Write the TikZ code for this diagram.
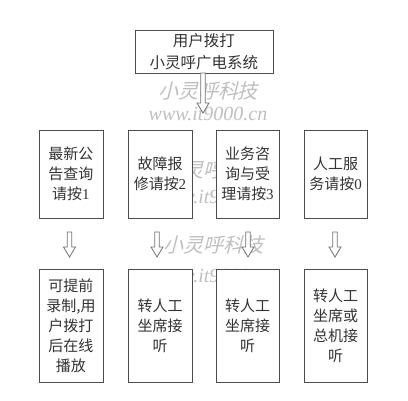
\documentclass[tikz,border=0pt]{standalone}
\usepackage{fontspec}
\setmainfont{Liberation Serif}
\newfontfamily\cjk{Noto Sans CJK SC}
\newfontfamily\cjkslant[FakeSlant=0.25]{Noto Sans CJK SC}
\usetikzlibrary{calc}
\newcommand\nm[1]{{\rmfamily #1}}
\newcommand\blockarrow[2]{%
  \draw[arrowline] ($(#1)+(-2.3,0)$) -- ($(#2)+(-2.3,-10)$) -- ($(#2)+(-6,-10)$) -- (#2)
    -- ($(#2)+(6,-10)$) -- ($(#2)+(2.3,-10)$) -- ($(#1)+(2.3,0)$) -- cycle;}
\newcommand\watermark[3]{%
  \node[wmcn] at (#1,#2) {小灵呼科技};
  \node[wmen] at (#1,#3) {www.it9000.cn};}
\begin{document}
\begin{tikzpicture}[x=1pt,y=-1pt,
  box/.style={draw=black!70, line width=0.9pt, fill=white, align=center,
    text=black!80, font=\cjk\fontsize{15}{20}\selectfont, inner sep=0pt},
  arrowline/.style={draw=black!55, line width=0.8pt, fill=white},
  wmcn/.style={text=black!25, font=\cjkslant\fontsize{20}{22}\selectfont, inner sep=0pt},
  wmen/.style={text=black!25, font=\rmfamily\itshape\fontsize{20}{22}\selectfont, inner sep=0pt}]
\useasboundingbox (0,0) rectangle (408,400);
\fill[white] (0,0) rectangle (408,400);

% watermarks (behind boxes)
\watermark{208}{91}{114}
\watermark{214}{170}{197}
\watermark{214}{245}{276}

% top box
\node[box, minimum width=138, minimum height=43, font=\cjk\fontsize{15.5}{22}\selectfont] (top) at (204,51.5) {用户拨打\\小灵呼广电系统};

% row 2
\node[box, minimum width=64, minimum height=88] (b1) at (71,174) {最新公\\告查询\\请按\nm{1}};
\node[box, minimum width=64, minimum height=88] (b2) at (160,174) {故障报\\修请按\nm{2}};
\node[box, minimum width=63, minimum height=88] (b3) at (247.5,174) {业务咨\\询与受\\理请按\nm{3}};
\node[box, minimum width=63, minimum height=88] (b4) at (335.5,174) {人工服\\务请按\nm{0}};

% row 3
\node[box, minimum width=64, minimum height=113] (c1) at (71,325.5) {可提前\\录制,用\\户拨打\\后在线\\播放};
\node[box, minimum width=64, minimum height=113] (c2) at (160,325.5) {转人工\\坐席接\\听};
\node[box, minimum width=63, minimum height=113] (c3) at (247.5,325.5) {转人工\\坐席接\\听};
\node[box, minimum width=63, minimum height=113] (c4) at (335.5,325.5) {转人工\\坐席或\\总机接\\听};

% arrows
\coordinate (a0s) at (203,73);  \coordinate (a0e) at (203,113);
\coordinate (a1s) at (69.5,232); \coordinate (a1e) at (69.5,257);
\coordinate (a2s) at (157,232);  \coordinate (a2e) at (157,257);
\coordinate (a3s) at (248,232);  \coordinate (a3e) at (248,257);
\coordinate (a4s) at (335,232);  \coordinate (a4e) at (335,257);
\blockarrow{a0s}{a0e}
\blockarrow{a1s}{a1e}
\blockarrow{a2s}{a2e}
\blockarrow{a3s}{a3e}
\blockarrow{a4s}{a4e}
\end{tikzpicture}
\end{document}
